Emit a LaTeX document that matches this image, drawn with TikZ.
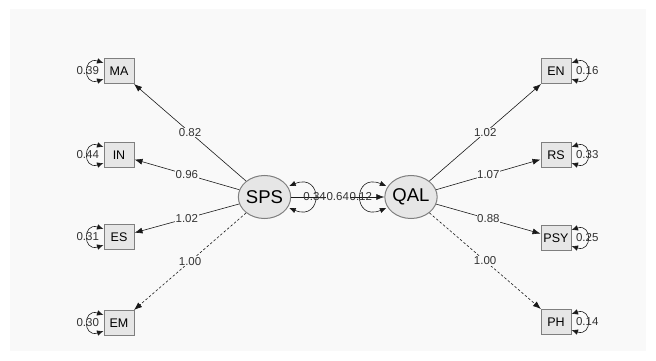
\documentclass[tikz,border=0pt]{standalone}
\usepackage{fontspec}
\setmainfont{Liberation Sans}
\usetikzlibrary{arrows.meta,calc,shapes.geometric}
\definecolor{bgc}{HTML}{F9F9F9}
\definecolor{boxfill}{HTML}{E6E6E6}
\definecolor{boxline}{HTML}{7F7F7F}
\definecolor{edgec}{HTML}{1A1A1A}
\begin{document}
\begin{tikzpicture}[x=1pt,y=-1pt,
  obs/.style={draw=boxline, line width=1pt, fill=boxfill, minimum width=30pt, minimum height=25pt, inner sep=0pt, font=\fontsize{12.5}{14}\selectfont},
  lat/.style={ellipse, draw=boxline, line width=1pt, fill=boxfill, minimum width=47pt, minimum height=43pt, inner sep=0pt, font=\fontsize{18.5}{20}\selectfont},
  loading/.style={draw=edgec, line width=0.6pt, -{Latex[length=8pt,width=6pt]}},
  fixedload/.style={loading, dash pattern=on 2.5pt off 2pt},
  varloop/.style={draw=edgec, line width=0.6pt, {Latex[length=6.5pt,width=5.5pt]}-{Latex[length=6.5pt,width=5.5pt]}},
  elab/.style={fill=bgc, inner sep=0.6pt, font=\fontsize{11.5}{13}\selectfont, text=black!80},
  vlab/.style={inner sep=0pt, font=\fontsize{11.5}{13}\selectfont, text=black!80}
]
\useasboundingbox (0,0) rectangle (656,361);
\fill[white] (0,0) rectangle (656,361);
\fill[bgc] (10,9) rectangle (646,351);

\node[lat] (SPS) at (264.5,197) {SPS};
\node[lat] (QAL) at (411,197) {QAL};
\node[obs] (MA) at (119,71) {MA};
\node[obs] (IN) at (119,155) {IN};
\node[obs] (ES) at (119,237) {ES};
\node[obs] (EM) at (119,323) {EM};
\node[obs] (EN) at (556,71) {EN};
\node[obs] (RS) at (556,155) {RS};
\node[obs] (PSY) at (556,238) {PSY};
\node[obs] (PH) at (556,322) {PH};

\draw[loading] (SPS) -- node[elab]{0.82} (MA);
\draw[loading] (SPS) -- node[elab]{0.96} (IN);
\draw[loading] (SPS) -- node[elab]{1.02} (ES);
\draw[fixedload] (SPS) -- node[elab]{1.00} (EM);
\draw[loading] (QAL) -- node[elab]{1.02} (EN);
\draw[loading] (QAL) -- node[elab]{1.07} (RS);
\draw[loading] (QAL) -- node[elab]{0.88} (PSY);
\draw[fixedload] (QAL) -- node[elab]{1.00} (PH);
\draw[loading] (SPS) -- node[elab]{0.64} (QAL);

\draw[varloop] ($(SPS.east)+(-2,-11)$) .. controls +(34,-14) and +(34,14) .. ($(SPS.east)+(-2,11)$) node[vlab,pos=0.5]{0.34};
\draw[varloop] ($(QAL.west)+(2,-11)$) .. controls +(-34,-14) and +(-34,14) .. ($(QAL.west)+(2,11)$) node[vlab,pos=0.5]{0.12};

\draw[varloop] ($(MA.west)+(0,-8)$) .. controls +(-21,-7) and +(-21,7) .. ($(MA.west)+(0,8)$) node[vlab,pos=0.5]{0.39};
\draw[varloop] ($(IN.west)+(0,-8)$) .. controls +(-21,-7) and +(-21,7) .. ($(IN.west)+(0,8)$) node[vlab,pos=0.5]{0.44};
\draw[varloop] ($(ES.west)+(0,-8)$) .. controls +(-21,-7) and +(-21,7) .. ($(ES.west)+(0,8)$) node[vlab,pos=0.5]{0.31};
\draw[varloop] ($(EM.west)+(0,-8)$) .. controls +(-21,-7) and +(-21,7) .. ($(EM.west)+(0,8)$) node[vlab,pos=0.5]{0.30};

\draw[varloop] ($(EN.east)+(0,-8)$) .. controls +(21,-7) and +(21,7) .. ($(EN.east)+(0,8)$) node[vlab,pos=0.5]{0.16};
\draw[varloop] ($(RS.east)+(0,-8)$) .. controls +(21,-7) and +(21,7) .. ($(RS.east)+(0,8)$) node[vlab,pos=0.5]{0.33};
\draw[varloop] ($(PSY.east)+(0,-8)$) .. controls +(21,-7) and +(21,7) .. ($(PSY.east)+(0,8)$) node[vlab,pos=0.5]{0.25};
\draw[varloop] ($(PH.east)+(0,-8)$) .. controls +(21,-7) and +(21,7) .. ($(PH.east)+(0,8)$) node[vlab,pos=0.5]{0.14};
\end{tikzpicture}
\end{document}
